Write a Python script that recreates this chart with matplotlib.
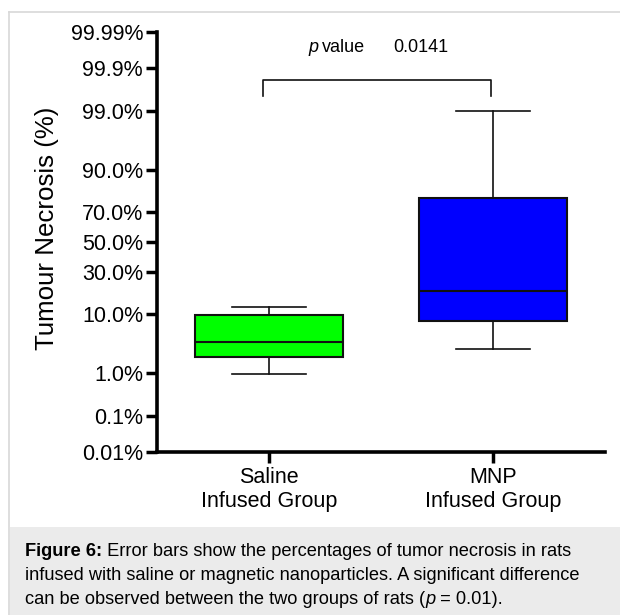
import numpy as np
import matplotlib
matplotlib.use('Agg')
import matplotlib.pyplot as plt
from matplotlib.lines import Line2D
from matplotlib.patches import Rectangle
from statistics import NormalDist

plt.rcParams['font.family'] = ['Liberation Sans', 'DejaVu Sans']

# data (percent necrosis)
groups = ['Saline\nInfused Group', 'MNP\nInfused Group']
whis_lo = [0.95, 2.95]
q1 = [2.1, 8.2]
median = [3.9, 19.5]
q3 = [9.7, 78.0]
whis_hi = [12.6, 99.0]
box_colors = ['#00ff00', '#0000ff']
p_value = '0.0141'

y_ticks = [0.01, 0.1, 1.0, 10.0, 30.0, 50.0, 70.0, 90.0, 99.0, 99.9, 99.99]
y_ticklabels = ['0.01%', '0.1%', '1.0%', '10.0%', '30.0%', '50.0%',
                '70.0%', '90.0%', '99.0%', '99.9%', '99.99%']

caption_bold = 'Figure 6:'
caption_lines = [' Error bars show the percentages of tumor necrosis in rats',
                 'infused with saline or magnetic nanoparticles. A significant difference',
                 'can be observed between the two groups of rats (']

# probit scale
_nd = NormalDist()
_ppf = np.vectorize(lambda p: _nd.inv_cdf(min(max(p / 100.0, 1e-12), 1 - 1e-12)),
                    otypes=[float])
_cdf = np.vectorize(lambda z: _nd.cdf(z) * 100.0, otypes=[float])

def fwd(p):
    return _ppf(np.asarray(p, dtype=float))

def inv(z):
    return _cdf(np.asarray(z, dtype=float))

W, H = 620, 615
fig = plt.figure(figsize=(W / 100, H / 100), dpi=100)

# frame lines and caption background
fig.add_artist(Line2D([9 / W, 9 / W], [0, 1 - 12 / H], color='#d8d8d8', lw=1.2))
fig.add_artist(Line2D([9 / W, 1], [1 - 12 / H, 1 - 12 / H], color='#d8d8d8', lw=1.2))
fig.add_artist(Rectangle((9.5 / W, 0), 1, (H - 527) / H, transform=fig.transFigure,
                         facecolor='#ebebeb', edgecolor='none'))

ax = fig.add_axes([157 / W, (H - 452) / H, (605 - 157) / W, (452 - 32) / H])
ax.set_yscale('function', functions=(fwd, inv))
ax.set_ylim(0.01, 99.99)
ax.set_xlim(0.5, 2.5)

stats = []
for i in range(len(groups)):
    stats.append({'med': median[i], 'q1': q1[i], 'q3': q3[i],
                  'whislo': whis_lo[i], 'whishi': whis_hi[i], 'fliers': []})

bp = ax.bxp(stats, positions=[1, 2], widths=0.66, capwidths=0.33, patch_artist=True,
            showfliers=False,
            boxprops=dict(linewidth=1.5, edgecolor='#111111'),
            medianprops=dict(color='#111111', linewidth=1.5),
            whiskerprops=dict(color='#111111', linewidth=1.2),
            capprops=dict(color='#111111', linewidth=1.2))
for patch, c in zip(bp['boxes'], box_colors):
    patch.set_facecolor(c)

ax.set_yticks(y_ticks)
ax.set_yticklabels(y_ticklabels)
ax.yaxis.set_minor_locator(matplotlib.ticker.NullLocator())
ax.set_xticks([1, 2])
ax.set_xticklabels(groups)
ax.tick_params(axis='both', length=8, width=2.5, labelsize=15.5, pad=2, color='black')
ax.tick_params(axis='x', pad=3)
for side in ['top', 'right']:
    ax.spines[side].set_visible(False)
for side in ['left', 'bottom']:
    ax.spines[side].set_linewidth(2.6)
ax.set_ylabel('Tumour Necrosis (%)', fontsize=18.6)
ax.yaxis.set_label_coords(-0.219, 0.533)

# significance bracket
bx = [263 / W, 263 / W, 491 / W, 491 / W]
by = [1 - 96 / H, 1 - 80 / H, 1 - 80 / H, 1 - 96 / H]
fig.add_artist(Line2D(bx, by, color='#111111', lw=1.2))
fig.text(308 / W, 1 - 48 / H, 'p', style='italic', fontsize=13, va='center', ha='left')
fig.text(322 / W, 1 - 48 / H, 'value', fontsize=13, va='center', ha='left')
fig.text(393 / W, 1 - 48 / H, p_value, fontsize=13, va='center', ha='left')

# caption
cap_fs = 13.15
renderer = fig.canvas.get_renderer()
t0 = fig.text(25 / W, 1 - 551 / H, caption_bold, fontsize=cap_fs, fontweight='bold',
              va='center', ha='left')
bb = t0.get_window_extent(renderer)
fig.text(bb.x1 / W, 1 - 551 / H, caption_lines[0], fontsize=cap_fs, va='center', ha='left')
fig.text(25 / W, 1 - 575 / H, caption_lines[1], fontsize=cap_fs, va='center', ha='left')
t3 = fig.text(25 / W, 1 - 599 / H, caption_lines[2], fontsize=cap_fs, va='center', ha='left')
bb = t3.get_window_extent(renderer)
t4 = fig.text(bb.x1 / W, 1 - 599 / H, 'p', fontsize=cap_fs, style='italic', va='center', ha='left')
bb = t4.get_window_extent(renderer)
fig.text(bb.x1 / W, 1 - 599 / H, ' = 0.01).', fontsize=cap_fs, va='center', ha='left')

fig.savefig('out.png', dpi=100)
